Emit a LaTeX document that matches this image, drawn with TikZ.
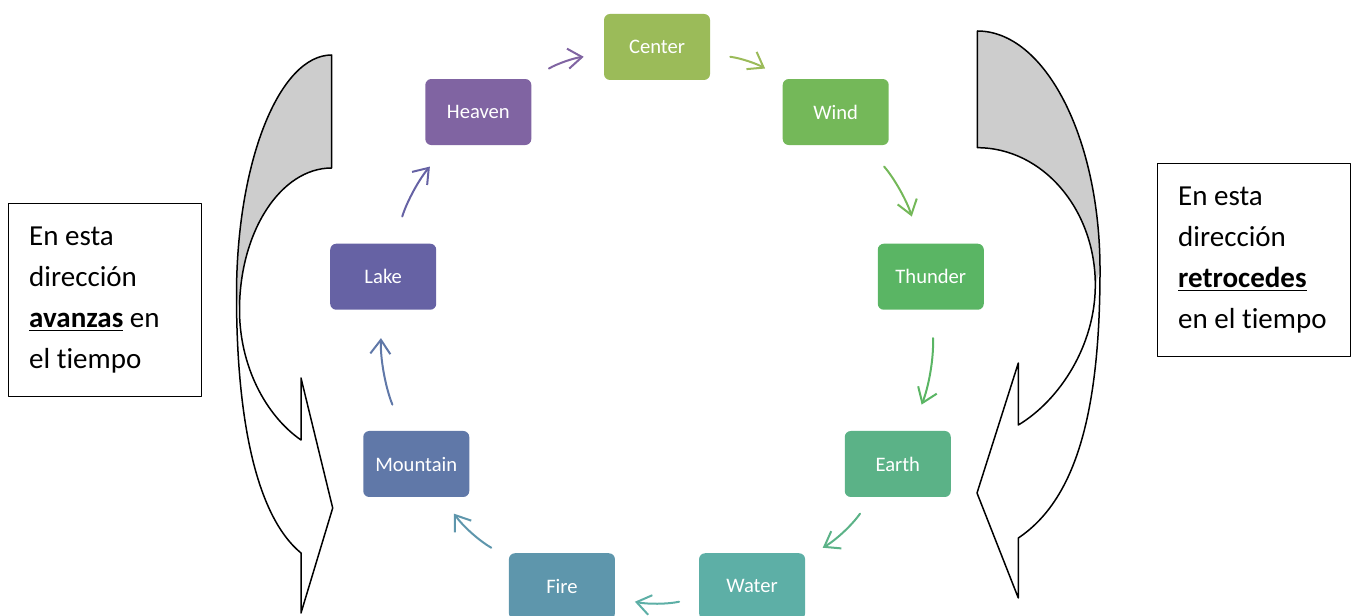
\documentclass[tikz,border=0pt]{standalone}
\usepackage{fontspec}
\setmainfont{Carlito}[Ligatures=NoCommon]
\usetikzlibrary{arrows.meta}

\definecolor{cCenter}{HTML}{9BBB59}
\definecolor{cWind}{HTML}{74B859}
\definecolor{cThunder}{HTML}{5AB564}
\definecolor{cEarth}{HTML}{5BB287}
\definecolor{cWater}{HTML}{5DAFA6}
\definecolor{cFire}{HTML}{5E96AC}
\definecolor{cMountain}{HTML}{6078A8}
\definecolor{cLake}{HTML}{6662A4}
\definecolor{cHeaven}{HTML}{8064A2}
\definecolor{bandgray}{HTML}{CDCDCD}

\begin{document}
\begin{tikzpicture}[x=0.5pt,y=0.5pt,line cap=round,line join=round,
  stage/.style={rounded corners=3pt,minimum width=53pt,minimum height=33pt,inner sep=0pt,text=white,font=\fontsize{10.3}{12}\selectfont},
  cyc/.style={line width=1pt,-{Straight Barb[length=7pt,width=10pt]},bend left=12,shorten <=10pt,shorten >=10pt},
  steep/.style={shorten <=14pt,shorten >=14pt},
  notebox/.style={draw,line width=0.7pt,minimum width=96.5pt,minimum height=96.5pt,inner xsep=10.25pt,text width=76pt,align=left,font=\fontsize{14.5}{20.4}\selectfont,execute at begin node={\spaceskip=0pt\xspaceskip=0pt}},
  band/.style={line width=0.75pt}]
  \useasboundingbox (0,0) rectangle (1352,615);
  % left band, forward in time
  \fill[bandgray] (331.7,560) -- (331.7,447) arc[start angle=90,end angle=180,x radius=92.2,y radius=142] -- (236.5,320) arc[start angle=180,end angle=90,x radius=95.2,y radius=240] -- cycle;
  \draw[band] (331.7,560) -- (331.7,447) arc[start angle=90,end angle=180,x radius=92.2,y radius=142] .. controls (239.5,250) and (265,200) .. (301,175) -- (301,237) -- (332.7,107) -- (301,2) -- (301,62) .. controls (255,100) and (236.5,200) .. (236.5,320) arc[start angle=180,end angle=90,x radius=95.2,y radius=240] -- cycle;
  % right band, back in time
  \fill[bandgray] (977.3,584) -- (977.3,467.3) arc[start angle=90,end angle=0,x radius=118,y radius=137.3] -- (1100,345) arc[start angle=0,end angle=90,x radius=122.7,y radius=239] -- cycle;
  \draw[band] (977.3,584) -- (977.3,467.3) arc[start angle=90,end angle=0,x radius=118,y radius=137.3] .. controls (1095.3,270) and (1060,215) .. (1018.3,190) -- (1018.3,252) -- (977,122) -- (1018.3,17) -- (1018.3,77) .. controls (1075,115) and (1100,200) .. (1100,345) arc[start angle=0,end angle=90,x radius=122.7,y radius=239] -- cycle;
  % cycle of stages
  \begin{scope}[shift={(657,290)}]
    \node[stage,fill=cCenter] (center) at (90:278) {Center};
    \node[stage,fill=cWind] (wind) at (50:278) {Wind};
    \node[stage,fill=cThunder] (thunder) at (10:278) {Thunder};
    \node[stage,fill=cEarth] (earth) at (-30:278) {Earth};
    \node[stage,fill=cWater] (water) at (-70:278) {Water};
    \node[stage,fill=cFire] (fire) at (-110:278) {Fire};
    \node[stage,fill=cMountain] (mountain) at (-150:278) {Mountain};
    \node[stage,fill=cLake] (lake) at (170:278) {Lake};
    \node[stage,fill=cHeaven] (heaven) at (130:278) {Heaven};
  \end{scope}
  \draw[cyc,draw=cHeaven] (heaven) to (center);
  \draw[cyc,draw=cCenter] (center) to (wind);
  \draw[cyc,steep,draw=cWind] (wind) to (thunder);
  \draw[cyc,steep,draw=cThunder] (thunder) to (earth);
  \draw[cyc,draw=cEarth] (earth) to (water);
  \draw[cyc,draw=cWater] (water) to (fire);
  \draw[cyc,draw=cFire] (fire) to (mountain);
  \draw[cyc,steep,draw=cMountain] (mountain) to (lake);
  \draw[cyc,steep,draw=cLake] (lake) to (heaven);
  % notes
  \node[notebox,anchor=north west] (fwd) at (8,412) {En esta\\dirección\\\underline{\textbf{avanzas}} en\\el tiempo};
  \node[notebox,anchor=north west] (bwd) at (1157,452) {En esta\\dirección\\\underline{\textbf{retrocedes}}\\en el tiempo};
\end{tikzpicture}
\end{document}
